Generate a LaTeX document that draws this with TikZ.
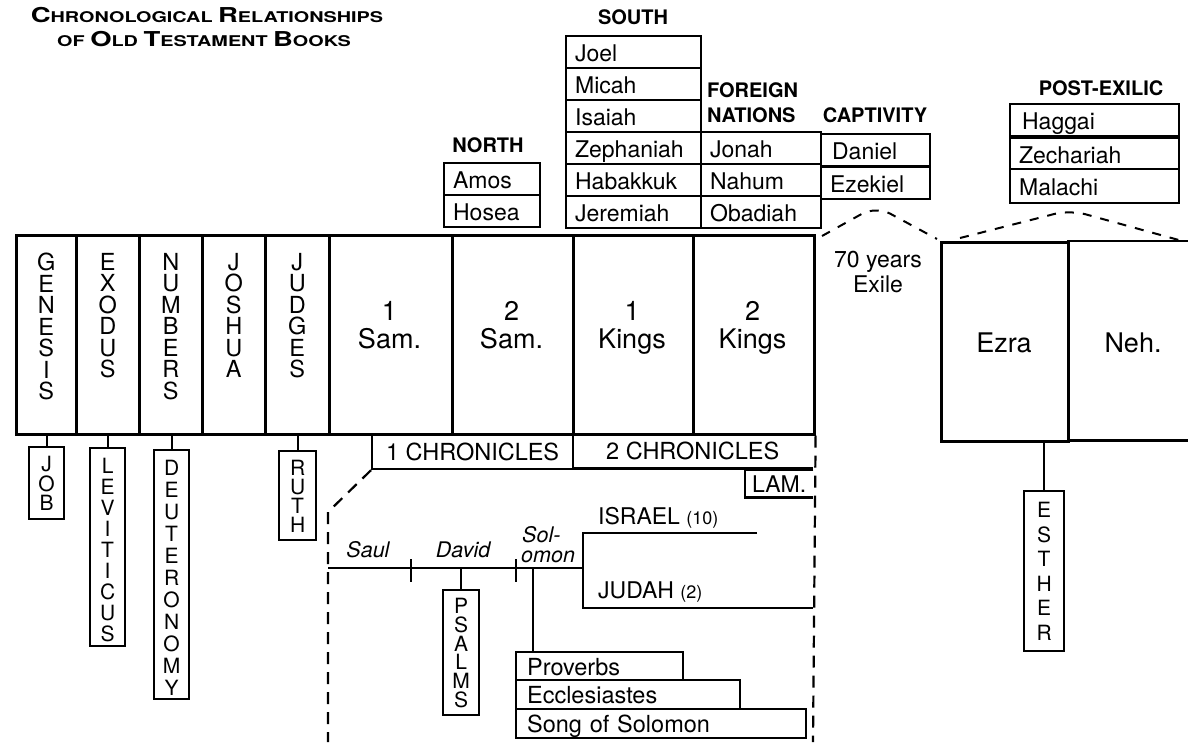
\documentclass[tikz,border=0pt]{standalone}
\usepackage{fontspec}
\setmainfont{TeX Gyre Heros}
\newcommand\tbig{\fontsize{20.5}{20}\selectfont}
\newcommand\tsm{\fontsize{14.8}{20}\selectfont}
\begin{document}
\begin{tikzpicture}[x=1pt,y=-1pt,
  bx/.style={draw, line width=2.6pt, inner sep=0pt, anchor=north west},
  lb/.style={draw, line width=2.2pt, inner sep=0pt, anchor=north west},
  ubox/.style={draw, line width=2.2pt, anchor=north west, align=left, inner xsep=9pt, inner ysep=0pt,
    minimum height=32pt, text width=#1, text height=19.5pt, text depth=0pt, font=\fontsize{23}{23}\selectfont},
  conn/.style={line width=2pt},
  vstack/.style={align=center, inner sep=0pt, anchor=north, font=\fontsize{23.5}{21.5}\selectfont},
  lstack/.style={align=center, inner sep=0pt, anchor=north, font=\fontsize{21}{#1}\selectfont},
  hdr/.style={font=\bfseries\fontsize{20}{25}\selectfont, inner sep=0pt},
  bigt/.style={font=\fontsize{27}{28}\selectfont, align=center, inner sep=0pt, anchor=north},
  midt/.style={font=\fontsize{23}{25}\selectfont, inner sep=0pt},
  itl/.style={font=\itshape\fontsize{21.5}{17}\selectfont, inner sep=0pt},
  dline/.style={line width=2.2pt, dash pattern=on 12pt off 8pt},
  tent/.style={line width=2pt, dash pattern=on 9pt off 9pt, rounded corners=16pt}
]
\useasboundingbox (0,0) rectangle (1188,742);

% title
\node[font=\bfseries, inner sep=0pt, anchor=base] (title1) at (207,22)
  {\scalebox{1.34}[1]{\tbig C\tsm HRONOLOGICAL \tbig R\tsm ELATIONSHIPS}};
\node[font=\bfseries, inner sep=0pt, anchor=base] (title2) at (204,46)
  {\scalebox{1.34}[1]{\tsm OF \tbig O\tsm LD \tbig T\tsm ESTAMENT \tbig B\tsm OOKS}};

% headers
\node[hdr] (southh) at (633,17) {SOUTH};
\node[hdr] (northh) at (488,145) {NORTH};
\node[hdr, align=left, anchor=west] (forh) at (707,103) {FOREIGN\\NATIONS};
\node[hdr] (caph) at (875,115) {CAPTIVITY};
\node[hdr] (posth) at (1101,88) {POST-EXILIC};

% north
\node[ubox=78pt] (amos) at (443,162) {Amos};
\node[ubox=78pt] (hosea) at (443,194) {Hosea};
% south
\node[ubox=117pt] (joel) at (565,35) {Joel};
\node[ubox=117pt] (micah) at (565,67) {Micah};
\node[ubox=117pt] (isaiah) at (565,99) {Isaiah};
\node[ubox=117pt] (zeph) at (565,131) {Zephaniah};
\node[ubox=117pt] (hab) at (565,163) {Habakkuk};
\node[ubox=117pt] (jer) at (565,195) {Jeremiah};
% foreign nations
\node[ubox=102pt] (jonah) at (700,131) {Jonah};
\node[ubox=102pt] (nahum) at (700,163) {Nahum};
\node[ubox=102pt] (obad) at (700,195) {Obadiah};
% captivity
\node[ubox=91pt, text height=19pt] (daniel) at (820,133) {\hspace{2pt}Daniel};
\node[ubox=91pt, text height=19pt] (ezek) at (820,166) {Ezekiel};
% post-exilic
\node[ubox=151pt] (haggai) at (1009,103) {\hspace{3pt}Haggai};
\node[ubox=151pt, minimum height=31pt] (zech) at (1009,137) {Zechariah};
\node[ubox=151pt, minimum height=34pt] (mal) at (1009,168) {Malachi};

% exile tents
\coordinate (t1a) at (822,236);
\coordinate (t1p) at (876,206);
\coordinate (t1b) at (937,239);
\coordinate (t2a) at (960,238);
\coordinate (t2p) at (1070,210);
\coordinate (t2b) at (1186,242);
\draw[tent] (t1a) -- (t1p) -- (t1b);
\draw[tent] (t2a) -- (t2p) -- (t2b);

% main row
\node[bx, minimum width=60pt, minimum height=199pt] (gen) at (15,234) {};
\node[bx, minimum width=63pt, minimum height=199pt] (exo) at (75,234) {};
\node[bx, minimum width=63pt, minimum height=199pt] (num) at (138,234) {};
\node[bx, minimum width=63pt, minimum height=199pt] (jos) at (201,234) {};
\node[bx, minimum width=64pt, minimum height=199pt] (jdg) at (264,234) {};
\node[bx, minimum width=123pt, minimum height=199pt] (sam1) at (328,234) {};
\node[bx, minimum width=121pt, minimum height=199pt] (sam2) at (451,234) {};
\node[bx, minimum width=120pt, minimum height=199pt] (kgs1) at (572,234) {};
\node[bx, minimum width=121pt, minimum height=199pt] (kgs2) at (692,234) {};

\node[vstack] (gent) at ([yshift=-19pt]gen.north) {G\\E\\N\\E\\S\\I\\S};
\node[vstack] (exot) at ([yshift=-19pt]exo.north) {E\\X\\O\\D\\U\\S};
\node[vstack] (numt) at ([yshift=-19pt]num.north) {N\\U\\M\\B\\E\\R\\S};
\node[vstack] (jost) at ([yshift=-19pt]jos.north) {J\\O\\S\\H\\U\\A};
\node[vstack] (jdgt) at ([yshift=-19pt]jdg.north) {J\\U\\D\\G\\E\\S};
\node[bigt] (sam1t) at (389.5,301) {1\\Sam.};
\node[bigt] (sam2t) at (511.5,301) {2\\Sam.};
\node[bigt] (kgs1t) at (632,301) {1\\Kings};
\node[bigt] (kgs2t) at (752.5,301) {2\\Kings};

% chronicles and lamentations
\node[lb, minimum width=201pt, minimum height=35pt, font=\fontsize{23.5}{23}\selectfont] (chr1) at (371,433) {1 CHRONICLES};
\node[inner sep=0pt, anchor=north west, minimum width=241pt, minimum height=35pt, font=\fontsize{23.5}{23}\selectfont] (chr2) at (572,433) {2 CHRONICLES};
\draw[line width=2.2pt] (chr2.south west) -- (chr2.south east);
\node[inner sep=0pt, anchor=north west, minimum width=68pt, minimum height=27pt, font=\fontsize{23}{23}\selectfont] (lam) at (745,470) {LAM.};
\draw[line width=2.2pt] (lam.north east) -- (lam.north west) -- (lam.south west) -- (lam.south east);

% dashed frame
\coordinate (rbot) at (813,742);
\coordinate (lknee) at (328,512);
\coordinate (lbot) at (328,742);
\draw[dline] (kgs2.south east) -- (rbot);
\draw[dline] (chr1.south west) -- (lknee) -- (lbot);

% hanging books, left
\node[lb, minimum width=35pt, minimum height=72pt] (job) at (28,446) {};
\node[lb, minimum width=35pt, minimum height=198pt] (lev) at (89,447) {};
\node[lb, minimum width=35pt, minimum height=249pt] (deu) at (153,449) {};
\node[lb, minimum width=37pt, minimum height=89pt] (ruth) at (278,450) {};
\draw[conn] (job.north) -- (job.north |- gen.south);
\draw[conn] (lev.north) -- (lev.north |- exo.south);
\draw[conn] (deu.north) -- (deu.north |- num.south);
\draw[conn] (ruth.north) -- (ruth.north |- jdg.south);
\node[lstack=19.5pt] (jobt) at ([yshift=-10pt]job.north) {J\\O\\B};
\node[lstack=21pt] (levt) at ([yshift=-11pt]lev.north) {L\\E\\V\\I\\T\\I\\C\\U\\S};
\node[lstack=22pt] (deut) at ([yshift=-11pt]deu.north) {D\\E\\U\\T\\E\\R\\O\\N\\O\\M\\Y};
\node[lstack=19pt] (rutht) at ([yshift=-10pt]ruth.north) {R\\U\\T\\H};

% timeline
\coordinate (tlA) at (328,568);
\coordinate (tlB) at (583,568);
\coordinate (tk1) at (411,568);
\coordinate (tk2) at (516,568);
\coordinate (solx) at (533,568);
\draw[conn] (tlA) -- (tlB);
\draw[conn] ([yshift=9pt]tk1) -- ([yshift=-14pt]tk1);
\draw[conn] ([yshift=9pt]tk2) -- ([yshift=-14pt]tk2);
\node[itl, anchor=base] (saul) at (368,557) {Saul};
\node[itl, anchor=base] (david) at (463,557) {David};
\node[itl, anchor=base west] (solo1) at (522,542) {Sol-};
\node[itl, anchor=base west] (solo2) at (521,562) {omon};

% kingdom split
\coordinate (isrA) at (583,533);
\coordinate (isrB) at (757,533);
\coordinate (judA) at (583,608);
\coordinate (judB) at (813,608);
\draw[conn] (isrB) -- (isrA) -- (judA) -- (judB);
\node[midt, anchor=base west] (isr) at (598,524) {ISRAEL {\fontsize{18}{18}\selectfont(10)}};
\node[midt, anchor=base west] (jud) at (598,598) {JUDAH {\fontsize{18}{18}\selectfont(2)}};

% psalms
\node[lb, minimum width=36pt, minimum height=125pt] (ps) at (442,589) {};
\draw[conn] (ps.north) -- (ps.north |- tlA);
\node[lstack=18.8pt] (pst) at ([yshift=-9pt]ps.north) {P\\S\\A\\L\\M\\S};

% wisdom books
\node[ubox=145pt, inner xsep=11pt, minimum height=28pt, text height=18pt, font=\fontsize{23.5}{23}\selectfont] (prov) at (515,651) {Proverbs};
\node[ubox=202pt, inner xsep=11pt, minimum height=29pt, text height=18pt, font=\fontsize{23.5}{23}\selectfont] (eccl) at (515,679) {Ecclesiastes};
\node[ubox=268pt, inner xsep=11pt, minimum height=29pt, text height=18pt, font=\fontsize{23.5}{23}\selectfont] (song) at (515,708) {Song of Solomon};
\draw[conn] (solx) -- (solx |- prov.north);

% exile label
\node[midt, align=center, anchor=north] (exile) at (878,251) {70 years\\Exile};

% post-exilic histories
\node[bx, minimum width=127pt, minimum height=199pt] (ezra) at (940,241) {};
\node[inner sep=0pt, anchor=north west, minimum width=121pt, minimum height=199pt] (neh) at (1067,241) {};
\draw[line width=2.6pt] (neh.north west) -- (neh.north east);
\draw[line width=2.6pt] (neh.south west) -- (neh.south east);
\node[font=\fontsize{27}{28}\selectfont, inner sep=0pt] (ezrat) at (1004,343) {Ezra};
\node[font=\fontsize{27}{28}\selectfont, inner sep=0pt] (neht) at (1133,343) {Neh.};
\node[lb, minimum width=40pt, minimum height=160pt] (est) at (1023,490) {};
\draw[line width=2.4pt] (est.north) -- (est.north |- ezra.south);
\node[lstack=24.5pt] (estt) at ([yshift=-12pt]est.north) {E\\S\\T\\H\\E\\R};
\end{tikzpicture}
\end{document}
